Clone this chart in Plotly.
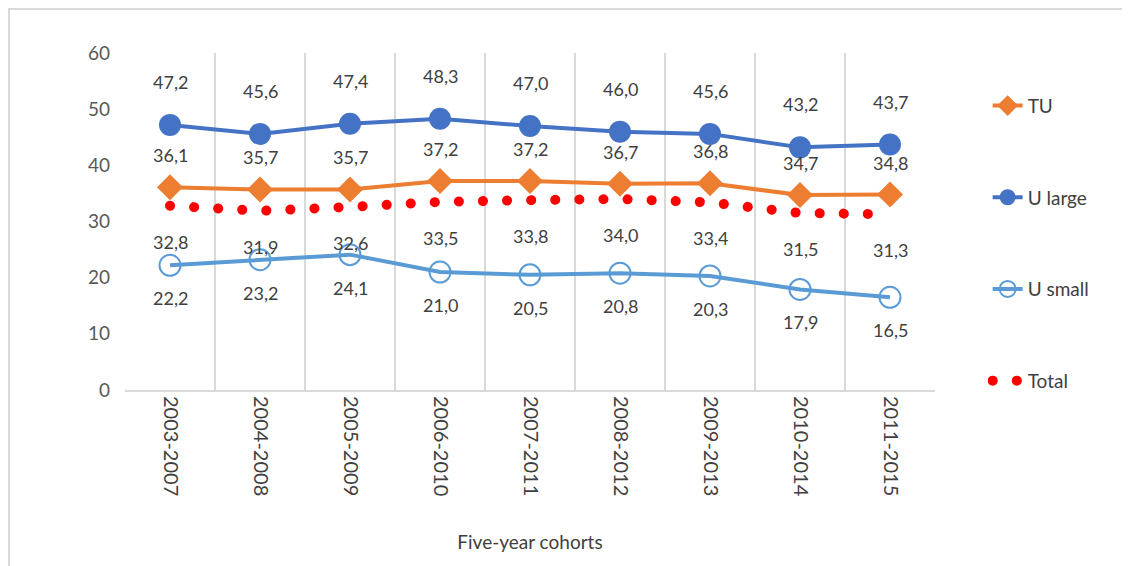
import plotly.graph_objects as go

# Dados do gráfico
cohorts = ['2003-2007', '2004-2008', '2005-2009', '2006-2010', '2007-2011',
           '2008-2012', '2009-2013', '2010-2014', '2011-2015']
tu = [36.1, 35.7, 35.7, 37.2, 37.2, 36.7, 36.8, 34.7, 34.8]
u_large = [47.2, 45.6, 47.4, 48.3, 47.0, 46.0, 45.6, 43.2, 43.7]
u_small = [22.2, 23.2, 24.1, 21.0, 20.5, 20.8, 20.3, 17.9, 16.5]
total = [32.8, 31.9, 32.6, 33.5, 33.8, 34.0, 33.4, 31.5, 31.3]

FONT = 'Lato'
TXT = '#404040'

# a página tem 8px de margem no body -> figura um pouco menor
W, H = 1122, 558
L, T, PW, PH = 117, 45, 810, 337

fig = go.Figure()

fig.add_trace(go.Scatter(
    x=cohorts, y=tu, name='TU', mode='lines+markers', legendgroup='a',
    line=dict(color='#ED7D31', width=4),
    marker=dict(symbol='diamond', size=20, color='#ED7D31')
))
fig.add_trace(go.Scatter(
    x=cohorts, y=u_large, name='U large', mode='lines+markers', legendgroup='b',
    line=dict(color='#4472C4', width=4),
    marker=dict(symbol='circle', size=22, color='#4472C4')
))
fig.add_trace(go.Scatter(
    x=cohorts, y=u_small, name='U small', mode='lines+markers', legendgroup='c',
    line=dict(color='#5B9BD5', width=4),
    marker=dict(symbol='circle-open', size=21, color='#5B9BD5', line=dict(width=2))
))
fig.add_trace(go.Scatter(
    x=cohorts, y=total, name='Total', mode='lines', legendgroup='d',
    line=dict(color='#FF0000', width=10, dash='0.1px,24px')
))


def fmt(v):
    return f'{v:.1f}'.replace('.', ',')


# Rótulos de dados (deslocamento vertical em px)
for serie, shift in [(u_large, 43), (tu, 32), (total, -36), (u_small, -33)]:
    for c, v in zip(cohorts, serie):
        fig.add_annotation(x=c, y=v, text=fmt(v), showarrow=False, yshift=shift,
                           font=dict(size=18, color=TXT, family=FONT))

# Moldura exterior do gráfico
fig.add_shape(type='rect', xref='paper', yref='paper',
              x0=(1 - L) / PW, x1=(W + 20 - L) / PW,
              y0=(T + PH - (H + 20)) / PH, y1=(T + PH - 1) / PH,
              line=dict(color='#D9D9D9', width=2), layer='below')

fig.update_layout(
    width=W, height=H,
    margin=dict(l=L, r=W - L - PW, t=T, b=H - T - PH),
    paper_bgcolor='white', plot_bgcolor='white',
    separators=',.',
    font=dict(family=FONT, size=18, color=TXT),
    showlegend=True,
    legend=dict(x=1.065, y=0.9, xanchor='left', yanchor='top',
                tracegroupgap=64, font=dict(size=19, color=TXT),
                bgcolor='rgba(0,0,0,0)'),
    xaxis=dict(
        type='category', range=[-0.5, 8.5], tickson='boundaries',
        showgrid=True, gridcolor='#D9D9D9', gridwidth=2,
        showline=True, linecolor='#D9D9D9', linewidth=2,
        ticks='', tickangle=90, automargin=False,
        tickfont=dict(size=20, color=TXT, family=FONT),
        title=dict(text='Five-year cohorts', standoff=40,
                   font=dict(size=19, color=TXT, family=FONT))
    ),
    yaxis=dict(
        range=[0, 60], dtick=10, showgrid=False, zeroline=False,
        showline=False, ticks='', ticklabelstandoff=14, automargin=False,
        tickfont=dict(size=19, color='#595959', family=FONT)
    )
)

post = """
document.querySelectorAll('path.js-line').forEach(function(p){
  if ((p.style.stroke || '').indexOf('255, 0, 0') >= 0) {
    p.style.strokeLinecap = 'round';
  }
});
"""

fig.write_html('out.html', post_script=post)
